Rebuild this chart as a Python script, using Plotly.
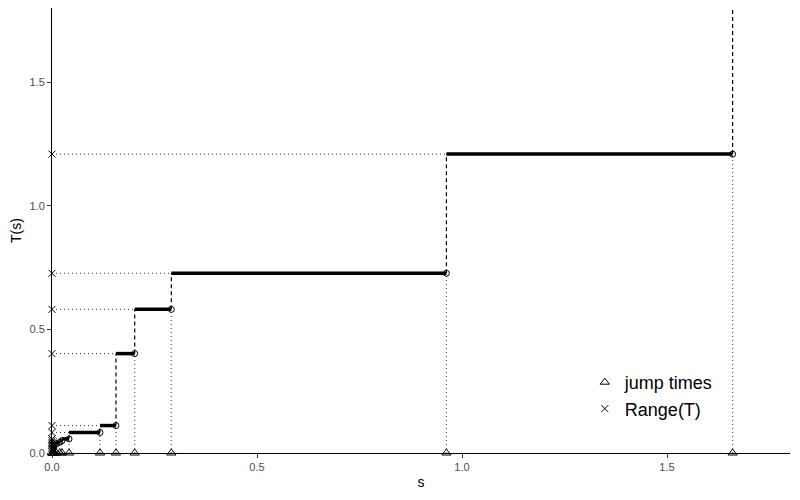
import plotly.graph_objects as go

# jump times s_i of T and the level T(s_i) reached after each jump
jump_s = [0.0003, 0.0008, 0.0015, 0.0025, 0.004, 0.006, 0.0107, 0.0188, 0.0244,
          0.0415, 0.117, 0.156, 0.2017, 0.291, 0.962, 1.660]
levels = [0.005, 0.012, 0.018, 0.024, 0.031, 0.037, 0.043, 0.050, 0.057,
          0.083, 0.111, 0.402, 0.581, 0.727, 1.209]
x_max = 1.8
y_max = 1.8
x_ticks = [0.0, 0.5, 1.0, 1.5]
y_ticks = [0.0, 0.5, 1.0, 1.5]

# T(s-) just before each jump: 0 before the first, then the previous level
before = [0.0] + levels
after = levels + [y_max]  # last jump goes to infinity

seg_x, seg_y = [], []
for i, lv in enumerate(levels):
    seg_x += [jump_s[i], jump_s[i + 1], None]
    seg_y += [lv, lv, None]

dash_x, dash_y = [], []
dot_vx, dot_vy = [], []
for s, b, a in zip(jump_s, before, after):
    dash_x += [s, s, None]
    dash_y += [b, a, None]
    dot_vx += [s, s, None]
    dot_vy += [0, b, None]

dot_hx, dot_hy = [], []
for s, lv in zip(jump_s, levels):
    dot_hx += [0, s, None]
    dot_hy += [lv, lv, None]

fig = go.Figure()
fig.add_trace(go.Scatter(x=dot_vx, y=dot_vy, mode="lines", showlegend=False, hoverinfo="skip",
                         line=dict(color="#333333", width=1, dash="1px,3px")))
fig.add_trace(go.Scatter(x=dot_hx, y=dot_hy, mode="lines", showlegend=False, hoverinfo="skip",
                         line=dict(color="#333333", width=1, dash="1px,3px")))
fig.add_trace(go.Scatter(x=dash_x, y=dash_y, mode="lines", showlegend=False, hoverinfo="skip",
                         line=dict(color="black", width=1.2, dash="4px,3px")))
fig.add_trace(go.Scatter(x=seg_x, y=seg_y, mode="lines", showlegend=False,
                         line=dict(color="black", width=3.5)))
fig.add_trace(go.Scatter(x=jump_s[1:], y=levels, mode="markers", showlegend=False,
                         marker=dict(symbol="circle-open", size=6, color="black",
                                     line=dict(width=1, color="black"))))
fig.add_trace(go.Scatter(x=jump_s, y=[0] * len(jump_s), mode="markers", name="jump times",
                         cliponaxis=False,
                         marker=dict(symbol="triangle-up-open", size=8, color="black",
                                     line=dict(width=1, color="black"))))
fig.add_trace(go.Scatter(x=[0] * len(levels), y=levels, mode="markers", name="Range(T)",
                         cliponaxis=False,
                         marker=dict(symbol="x-thin-open", size=7, color="black",
                                     line=dict(width=1, color="black"))))

axis_common = dict(showline=True, linecolor="black", linewidth=1, showgrid=False, zeroline=False,
                   ticks="outside", ticklen=4, tickcolor="#333333", automargin=False,
                   tickfont=dict(size=11, color="#4D4D4D"))
fig.update_xaxes(range=[0, x_max], tickvals=x_ticks, ticktext=[f"{v:.1f}" for v in x_ticks],
                 title=dict(text="s", font=dict(size=14, color="black"), standoff=4),
                 **axis_common)
fig.update_yaxes(range=[0, y_max], tickvals=y_ticks, ticktext=[f"{v:.1f}" for v in y_ticks],
                 title=dict(text="T(s)", font=dict(size=14, color="black"), standoff=4),
                 **axis_common)
# the page body adds 8px around the figure, so the figure is 784x484
fig.update_layout(
    width=784, height=484,
    margin=dict(l=44, r=2, t=0, b=39, autoexpand=False),
    paper_bgcolor="white", plot_bgcolor="white",
    font=dict(family="Liberation Sans, Arial, sans-serif"),
    legend=dict(x=0.722, y=0.2, xanchor="left", yanchor="top", bgcolor="rgba(0,0,0,0)",
                font=dict(size=18, color="black"), tracegroupgap=0, itemsizing="trace"),
)
fig.write_html("out.html")
